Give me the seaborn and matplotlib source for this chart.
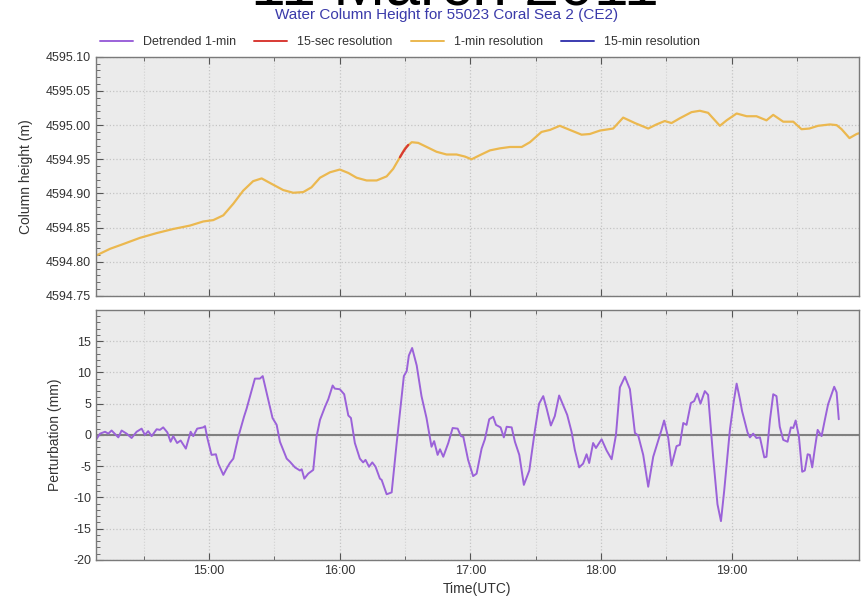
import pandas as pd
import matplotlib
matplotlib.use("Agg")
import matplotlib.pyplot as plt
import matplotlib.dates as mdates
from matplotlib.lines import Line2D
from matplotlib.ticker import MultipleLocator, FormatStrFormatter
import seaborn as sns

# =========================
# Data (minutes after 14:00 UTC, 11 March 2011)
# =========================
height_minute = [
    8.1, 14.6, 20.7, 28.3, 36.0, 43.6, 51.3, 57.4, 62.0, 66.6, 71.2, 75.7,
    80.3, 84.2, 88.8, 94.1, 98.7, 103.3, 107.1, 111.0, 115.6, 120.1, 124.0,
    127.8, 132.4, 137.0, 141.6, 144.6, 147.7, 150.0, 153.1, 156.1, 160.0,
    164.5, 169.1, 173.7, 177.5, 180.6, 184.4, 189.0, 193.6, 198.2, 203.6,
    207.4, 212.7, 216.6, 221.1, 225.7, 231.1, 234.9, 239.5, 245.6, 250.2,
    255.6, 261.7, 265.5, 269.3, 272.4, 276.2, 281.6, 285.4, 289.2, 294.6,
    297.7, 302.3, 306.9, 311.4, 316.0, 319.1, 323.7, 328.3, 332.1, 335.7,
    339.7, 345.1, 348.2, 350.5, 354.1, 357.4, 358.4,
]
height_m = [
    4594.809, 4594.819, 4594.826, 4594.835, 4594.842, 4594.848, 4594.853,
    4594.859, 4594.861, 4594.868, 4594.885, 4594.904, 4594.918, 4594.922,
    4594.914, 4594.905, 4594.901, 4594.902, 4594.909, 4594.923, 4594.931,
    4594.935, 4594.930, 4594.923, 4594.919, 4594.919, 4594.925, 4594.936,
    4594.953, 4594.966, 4594.975, 4594.974, 4594.968, 4594.961, 4594.957,
    4594.957, 4594.954, 4594.950, 4594.956, 4594.963, 4594.966, 4594.968,
    4594.968, 4594.975, 4594.990, 4594.993, 4594.999, 4594.993, 4594.986,
    4594.987, 4594.992, 4594.995, 4595.011, 4595.003, 4594.995, 4595.001,
    4595.006, 4595.003, 4595.010, 4595.019, 4595.021, 4595.018, 4594.999,
    4595.007, 4595.017, 4595.013, 4595.013, 4595.007, 4595.015, 4595.005,
    4595.005, 4594.994, 4594.995, 4594.999, 4595.001, 4595.000, 4594.994,
    4594.981, 4594.987, 4594.988,
]

sec15_minute = [147.7, 149.0, 150.3, 151.5]
sec15_m = [4594.953, 4594.960, 4594.966, 4594.971]

min15_minute = []
min15_m = []

detrended_minute = [
    8.1, 10.0, 12.3, 13.8, 15.3, 18.4, 19.9, 22.2, 24.5, 26.8, 29.1, 30.6,
    32.1, 33.7, 36.0, 37.5, 39.0, 40.9, 42.4, 43.6, 45.4, 47.0, 49.4, 51.6,
    52.8, 54.6, 57.4, 58.2, 59.2, 61.2, 63.2, 64.3, 66.6, 68.1, 69.6, 71.2,
    73.5, 76.1, 77.3, 79.1, 81.1, 83.4, 84.7, 86.5, 89.2, 91.1, 92.6, 95.7,
    97.2, 99.5, 101.8, 102.6, 103.8, 105.6, 107.9, 109.4, 111.0, 113.3,
    114.8, 116.8, 117.8, 120.1, 122.1, 124.0, 125.2, 127.0, 129.3, 130.8,
    131.9, 133.5, 135.0, 136.5, 138.5, 139.3, 141.6, 143.9, 146.2, 147.7,
    149.5, 150.8, 151.8, 153.3, 155.4, 157.6, 159.9, 162.2, 163.4, 165.0,
    166.1, 167.6, 169.9, 171.9, 174.2, 175.7, 176.8, 179.0, 181.3, 182.9,
    185.2, 186.7, 188.7, 190.5, 191.8, 193.9, 195.4, 196.7, 199.0, 200.5,
    202.5, 204.6, 207.1, 209.7, 211.6, 213.5, 215.0, 217.0, 218.8, 220.8,
    222.7, 224.5, 226.5, 228.0, 230.0, 231.8, 233.4, 234.6, 236.4, 237.7,
    240.3, 242.6, 244.9, 246.9, 248.7, 251.0, 253.3, 255.6, 257.1, 259.4,
    261.7, 264.0, 266.3, 267.8, 269.0, 270.9, 272.4, 274.7, 276.2, 277.8,
    279.3, 281.3, 282.8, 284.2, 285.7, 287.7, 289.2, 291.5, 293.5, 295.1,
    296.6, 299.2, 301.0, 302.3, 303.8, 304.8, 307.3, 308.4, 309.9, 311.4,
    313.0, 315.0, 316.0, 317.6, 319.1, 320.6, 322.1, 323.7, 325.7, 327.2,
    328.3, 329.4, 330.9, 332.4, 333.6, 334.9, 335.9, 337.0, 338.2, 339.5,
    341.3, 342.8, 344.3, 345.9, 347.1, 348.2, 349.2,
]
detrended_mm = [
    -0.8, 0.2, 0.5, 0.2, 0.7, -0.4, 0.7, 0.2, -0.5, 0.5, 1.0, 0.0,
    0.6, -0.2, 0.9, 0.8, 1.2, 0.4, -1.1, -0.2, -1.3, -0.9, -2.2, 0.5,
    -0.2, 1.0, 1.2, 1.4, -0.4, -3.2, -3.1, -4.6, -6.4, -5.4, -4.5, -3.8,
    -0.3, 2.9, 4.2, 6.5, 9.0, 9.0, 9.4, 6.7, 2.7, 1.6, -1.1, -3.8,
    -4.3, -5.2, -5.7, -5.5, -7.0, -6.2, -5.6, -0.3, 2.4, 4.5,
    5.7, 7.9, 7.4, 7.3, 6.5, 3.1, 2.7, -1.3, -3.8, -4.4,
    -4.0, -5.1, -4.4, -5.1, -7.0, -7.2, -9.5, -9.2, -1.3, 3.5,
    9.4, 10.2, 12.7, 13.9, 11.1, 6.2, 2.7, -1.9, -1.0, -3.2,
    -2.3, -3.5, -1.3, 1.1, 1.0, -0.2, -0.3, -4.0, -6.6, -6.2,
    -2.2, -0.7, 2.5, 2.9, 1.6, 1.2, -0.4, 1.3, 1.2, -1.1,
    -3.2, -8.0, -5.7, 0.8, 5.0, 6.2, 4.3, 1.5, 3.0, 6.3,
    4.7, 3.2, 0.5, -2.4, -5.2, -4.6, -3.1, -4.5, -1.3, -2.1,
    -0.7, -2.5, -3.9, 0.0, 7.6, 9.3, 7.3, 0.3, -0.1, -3.2,
    -8.3, -3.5, -0.9, 0.8, 2.3, -0.5, -4.9, -1.8, -1.6, 1.9,
    1.6, 5.1, 5.4, 6.6, 5.0, 7.0, 6.4, -3.5, -11.1, -13.8,
    -8.9, 0.8, 5.4, 8.2, 5.7, 3.8, 0.4, -0.4, 0.2, -0.5,
    -0.4, -3.6, -3.5, 2.4, 6.5, 6.2, 1.3, -0.8, -1.1, 1.2,
    1.1, 2.3, -0.3, -5.9, -5.7, -3.1, -3.2, -5.2, -2.2, 0.8,
    -0.2, 2.4, 4.9, 6.5, 7.7, 6.8, 2.5,
]

legend_labels = ["Detrended 1-min", "15-sec resolution", "1-min resolution", "15-min resolution"]
colors = ["#9b62d9", "#d83a34", "#ebb84f", "#3b3bb0"]

# =========================
# Build frames
# =========================
base = pd.Timestamp("2011-03-11 14:00")


def to_frame(minutes, values):
    return pd.DataFrame({
        "time": base + pd.to_timedelta(minutes, unit="m"),
        "value": values,
    })


df_height = to_frame(height_minute, height_m)
df_sec15 = to_frame(sec15_minute, sec15_m)
df_detr = to_frame(detrended_minute, detrended_mm)

# =========================
# Style
# =========================
sns.set_style("ticks", {
    "axes.facecolor": "#ebebeb",
    "axes.edgecolor": "#7a7a7a",
    "xtick.direction": "in",
    "ytick.direction": "in",
})
plt.rcParams["font.family"] = ["Liberation Sans", "DejaVu Sans"]
plt.rcParams["axes.unicode_minus"] = False
plt.rcParams["text.color"] = "#333333"
plt.rcParams["axes.labelcolor"] = "#333333"
plt.rcParams["xtick.color"] = "#555555"
plt.rcParams["ytick.color"] = "#555555"
plt.rcParams["xtick.labelcolor"] = "#333333"
plt.rcParams["ytick.labelcolor"] = "#333333"

fig = plt.figure(figsize=(8.64, 6.04), dpi=100)
ax1 = fig.add_axes([0.111, 0.510, 0.883, 0.396])
ax2 = fig.add_axes([0.111, 0.073, 0.883, 0.414])

# =========================
# Top panel: column height
# =========================
sns.lineplot(data=df_height, x="time", y="value", ax=ax1, color=colors[2], lw=1.6)
sns.lineplot(data=df_sec15, x="time", y="value", ax=ax1, color=colors[1], lw=1.6)
ax1.plot(base + pd.to_timedelta(min15_minute, unit="m"), min15_m, color=colors[3])
ax1.set_ylim(4594.75, 4595.10)
ax1.yaxis.set_major_locator(MultipleLocator(0.05))
ax1.yaxis.set_minor_locator(MultipleLocator(0.01))
ax1.yaxis.set_major_formatter(FormatStrFormatter("%.2f"))
ax1.set_ylabel("Column height (m)", fontsize=10, labelpad=9)
ax1.set_xlabel("")

# =========================
# Bottom panel: perturbation
# =========================
ax2.axhline(0, color="#808080", lw=1.5, zorder=1)
sns.lineplot(data=df_detr, x="time", y="value", ax=ax2, color=colors[0], lw=1.4)
ax2.set_ylim(-20, 20)
ax2.set_yticks(range(-20, 20, 5))
ax2.yaxis.set_minor_locator(MultipleLocator(1))
ax2.set_ylabel("Perturbation (mm)", fontsize=10, labelpad=8)
ax2.set_xlabel("Time(UTC)", fontsize=10)

xmin = base + pd.Timedelta(minutes=8.1)
xmax = base + pd.Timedelta(minutes=358.4)
for ax in (ax1, ax2):
    ax.set_xlim(xmin, xmax)
    ax.xaxis.set_major_locator(mdates.HourLocator())
    ax.xaxis.set_minor_locator(mdates.MinuteLocator(byminute=[30]))
    ax.xaxis.set_major_formatter(mdates.DateFormatter("%H:%M"))
    ax.grid(True, which="major", ls=":", color="#c4c4c4", lw=0.9)
    ax.grid(True, which="minor", axis="x", ls=":", color="#d2d2d2", lw=0.8)
    ax.tick_params(which="both", top=True, labelsize=9)
    ax.tick_params(which="major", length=5)
    ax.tick_params(which="minor", length=3)
    for s in ax.spines.values():
        s.set_linewidth(1.0)
ax1.tick_params(labelbottom=False)

# =========================
# Titles and legend
# =========================
fig.text(0.527, 0.992, "11 March 2011", fontsize=45, color="black",
         ha="center", va="baseline")
fig.text(0.517, 0.975, "Water Column Height for 55023 Coral Sea 2 (CE2)",
         fontsize=11, color="#3a3aaa", ha="center", va="center")

handles = [Line2D([], [], color=c, lw=1.4) for c in colors]
fig.legend(handles, legend_labels, loc="center", bbox_to_anchor=(0.463, 0.930),
           ncol=4, frameon=False, fontsize=9, handlelength=2.6, columnspacing=1.5)

fig.savefig("out.png", dpi=100)
